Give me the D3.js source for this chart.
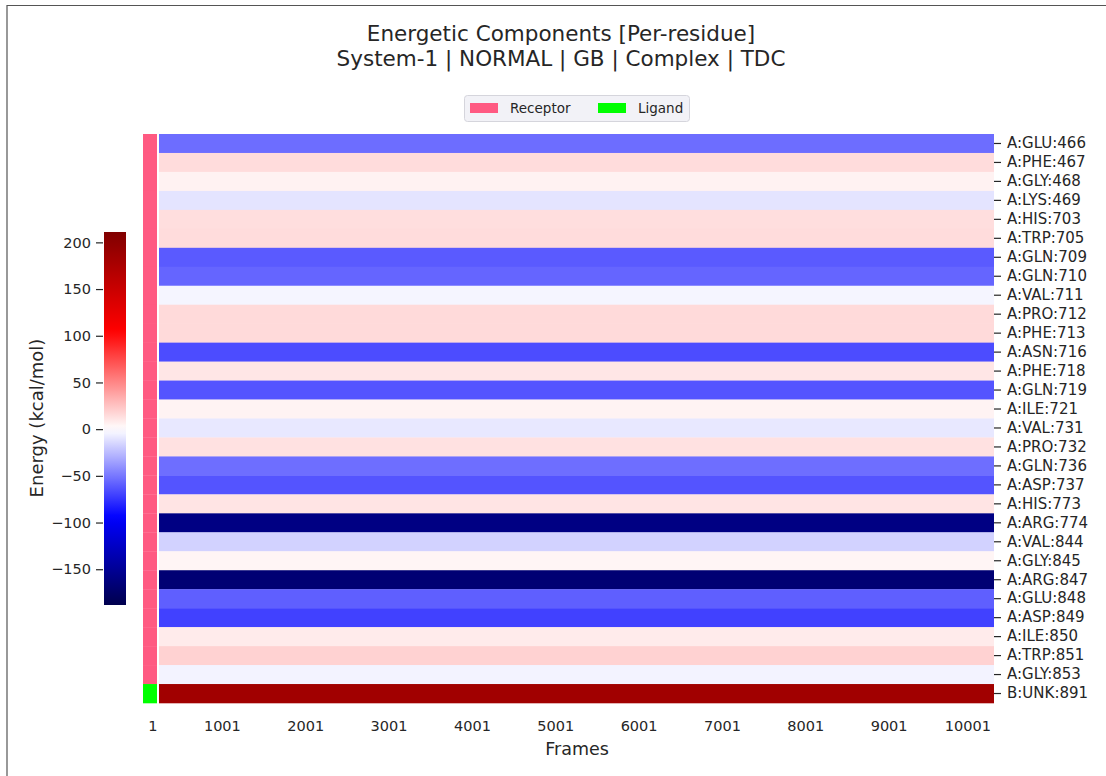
<!DOCTYPE html>
<html>
<head>
<meta charset="utf-8">
<script src="https://cdn.jsdelivr.net/npm/d3@7/dist/d3.min.js"></script>
<style>
  html, body { margin: 0; padding: 0; background: #fff; }
  svg { display: block; font-family: "DejaVu Sans", sans-serif; }
</style>
</head>
<body>
<svg id="chart" width="1106" height="776"></svg>
<script>
// ---------- data ----------
const residues = [
  "A:GLU:466","A:PHE:467","A:GLY:468","A:LYS:469","A:HIS:703","A:TRP:705",
  "A:GLN:709","A:GLN:710","A:VAL:711","A:PRO:712","A:PHE:713","A:ASN:716",
  "A:PHE:718","A:GLN:719","A:ILE:721","A:VAL:731","A:PRO:732","A:GLN:736",
  "A:ASP:737","A:HIS:773","A:ARG:774","A:VAL:844","A:GLY:845","A:ARG:847",
  "A:GLU:848","A:ASP:849","A:ILE:850","A:TRP:851","A:GLY:853","B:UNK:891"
];
// mean per-residue energy (kcal/mol)
const energies = [
  -54, 14.5, 5.4, -10, 13.7, 14.5,
  -61, -57, -3.7, 15.3, 15.3, -66,
  10.3, -63, 5, -8.5, 12.4, -53.5,
  -63, 11.2, -160, -16.6, 4.1, -168,
  -59, -70, 8.3, 18.6, -4.4, 184
];
const groups = residues.map(r => r.startsWith("B:") ? "Ligand" : "Receptor");
const legendItems = ["Receptor", "Ligand"];
const groupColors = ["#ff5a82", "#00ff00"];
const nFrames = 10020;
const frameTicks = [1, 1001, 2001, 3001, 4001, 5001, 6001, 7001, 8001, 9001, 10001];
const cbTicks = [200, 150, 100, 50, 0, -50, -100, -150];
const cbDomain = [-188.3, 0, 211.1];
const titleLines = ["Energetic Components [Per-residue]", "System-1 | NORMAL | GB | Complex | TDC"];

// ---------- helpers ----------
const seismic = d3.piecewise(d3.interpolateRgb, [
  "rgb(0,0,77)", "rgb(0,0,255)", "rgb(255,255,255)", "rgb(255,0,0)", "rgb(128,0,0)"
]);
const color = d3.scaleDiverging(seismic).domain(cbDomain);
const textCol = "#262626";

const svg = d3.select("#chart");

// frame border
svg.append("path").attr("d", "M7,776 V5.5 H1106").attr("fill", "none")
  .attr("stroke", "#555").attr("stroke-width", 1.2);

// titles
svg.selectAll("text.title").data(titleLines).enter().append("text")
  .attr("class", "title")
  .attr("x", 561).attr("y", (d, i) => 40.5 + i * 25)
  .attr("text-anchor", "middle").attr("font-size", 21.5).attr("fill", textCol)
  .text(d => d);

// ---------- heatmap ----------
const x = d3.scaleLinear().domain([1, nFrames]).range([159, 994]);
const y = d3.scaleBand().domain(residues).range([134, 703]);

svg.append("g").selectAll("rect").data(residues).enter().append("rect")
  .attr("x", x(1)).attr("width", x(nFrames) - x(1))
  .attr("y", d => y(d)).attr("height", y.bandwidth() + 0.3)
  .attr("fill", (d, i) => color(energies[i]));

// side group colours
const gColor = d3.scaleOrdinal().domain(legendItems).range(groupColors);
svg.append("g").selectAll("rect").data(residues).enter().append("rect")
  .attr("x", 143).attr("width", 14)
  .attr("y", d => y(d)).attr("height", y.bandwidth() + 0.3)
  .attr("fill", (d, i) => gColor(groups[i]));

// right row labels
const yAxis = svg.append("g").attr("transform", "translate(994,0)")
  .call(d3.axisRight(y).tickSize(7).tickPadding(6));
yAxis.select(".domain").remove();
yAxis.selectAll("line").attr("stroke", textCol).attr("stroke-width", 1.2);
yAxis.selectAll("text").attr("font-size", 15).attr("fill", textCol)
  .attr("font-family", "DejaVu Sans, sans-serif");

// x tick labels
svg.append("g").selectAll("text").data(frameTicks).enter().append("text")
  .attr("x", d => x(d) - 1.5).attr("y", 730.5)
  .attr("text-anchor", "end").attr("font-size", 14.5).attr("fill", textCol)
  .text(d => d);

svg.append("text").attr("x", 577).attr("y", 754.5)
  .attr("text-anchor", "middle").attr("font-size", 17.5).attr("fill", textCol)
  .text("Frames");

// ---------- colour bar ----------
const cbY = d3.scaleLinear().domain([cbDomain[0], cbDomain[2]]).range([605, 232]);
const defs = svg.append("defs");
const grad = defs.append("linearGradient").attr("id", "cbgrad")
  .attr("x1", 0).attr("y1", 1).attr("x2", 0).attr("y2", 0);
d3.range(0, 1.0001, 0.02).forEach(t => {
  const v = cbDomain[0] + t * (cbDomain[2] - cbDomain[0]);
  grad.append("stop").attr("offset", t).attr("stop-color", color(v));
});
svg.append("rect").attr("x", 104).attr("width", 22)
  .attr("y", cbY(cbDomain[2])).attr("height", cbY(cbDomain[0]) - cbY(cbDomain[2]))
  .attr("fill", "url(#cbgrad)");

const cbAxis = svg.append("g").attr("transform", "translate(103,0)")
  .call(d3.axisLeft(cbY).tickValues(cbTicks).tickSize(7).tickPadding(5)
    .tickFormat(d => d < 0 ? "\u2212" + Math.abs(d) : d));
cbAxis.select(".domain").remove();
cbAxis.selectAll("line").attr("stroke", textCol).attr("stroke-width", 1.2);
cbAxis.selectAll("text").attr("font-size", 14.5).attr("fill", textCol)
  .attr("font-family", "DejaVu Sans, sans-serif");

svg.append("text")
  .attr("transform", "translate(43,418) rotate(-90)")
  .attr("text-anchor", "middle").attr("font-size", 18).attr("fill", textCol)
  .text("Energy (kcal/mol)");

// ---------- legend ----------
const lg = svg.append("g");
lg.append("rect").attr("x", 464.5).attr("y", 95.5).attr("width", 225).attr("height", 26)
  .attr("rx", 3).attr("fill", "#f2f2f7").attr("stroke", "#d5d5dc");
const li = lg.selectAll("g.item").data(legendItems).enter().append("g")
  .attr("transform", (d, i) => `translate(${470 + i * 128},0)`);
li.append("rect").attr("x", 0).attr("y", 103).attr("width", 28).attr("height", 10)
  .attr("fill", d => gColor(d));
li.append("text").attr("x", 40).attr("y", 113)
  .attr("font-size", 13.5).attr("fill", textCol).text(d => d);
</script>
</body>
</html>
